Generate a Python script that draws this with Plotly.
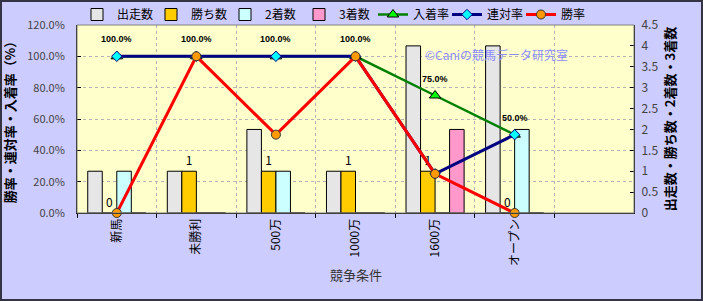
import plotly.graph_objects as go

categories = ["新馬", "未勝利", "500万", "1000万", "1600万", "オープン"]
starts = [1, 1, 2, 1, 4, 4]        # 出走数
wins = [0, 1, 1, 1, 1, 0]          # 勝ち数
seconds = [1, 0, 1, 0, 0, 2]       # 2着数
thirds = [0, 0, 0, 0, 2, 0]        # 3着数
place_rate = [100.0, 100.0, 100.0, 100.0, 75.0, 50.0]   # 入着率
rentai_rate = [100.0, 100.0, 100.0, 100.0, 25.0, 50.0]  # 連対率
win_rate = [0.0, 100.0, 50.0, 100.0, 25.0, 0.0]         # 勝率

left_ticks = [0, 20, 40, 60, 80, 100, 120]
right_ticks = [0, 0.5, 1, 1.5, 2, 2.5, 3, 3.5, 4, 4.5]

FONT = "Noto Sans CJK JP"
W, H = 703, 301
ML, MR, MT, MB = 77, 69, 25, 88
PW, PH = W - ML - MR, H - MT - MB

fig = go.Figure()

bar_line = dict(color="#000000", width=1)
fig.add_bar(name="出走数", x=categories, y=starts, marker=dict(color="#E6E6E6", line=bar_line), yaxis="y")
fig.add_bar(name="勝ち数", x=categories, y=wins, marker=dict(color="#FFCC00", line=bar_line), yaxis="y",
            text=[str(v) for v in wins], textposition="outside", cliponaxis=False,
            textfont=dict(size=12, color="#000000", family=FONT))
fig.add_bar(name="2着数", x=categories, y=seconds, marker=dict(color="#CCFFFF", line=bar_line), yaxis="y")
fig.add_bar(name="3着数", x=categories, y=thirds, marker=dict(color="#FF99CC", line=bar_line), yaxis="y")

fig.add_scatter(name="入着率", x=categories, y=place_rate, yaxis="y2", mode="lines+markers",
                line=dict(color="#008000", width=2.5),
                marker=dict(symbol="triangle-up", size=10, color="#00FF00", line=dict(color="#000000", width=1)),
                cliponaxis=False)
fig.add_scatter(name="連対率", x=categories, y=rentai_rate, yaxis="y2", mode="lines+markers",
                line=dict(color="#000080", width=3),
                marker=dict(symbol="diamond", size=8, color="#00FFFF", line=dict(color="#000080", width=1)),
                cliponaxis=False)
fig.add_scatter(name="勝率", x=categories, y=win_rate, yaxis="y2", mode="lines+markers",
                line=dict(color="#FF0000", width=3),
                marker=dict(symbol="circle", size=9, color="#FF9900", line=dict(color="#333333", width=1)),
                cliponaxis=False)

annotations = []
for c, v in zip(categories, place_rate):
    annotations.append(dict(x=c, y=v, xref="x", yref="y2", text=f"<b>{v:.1f}%</b>", showarrow=False,
                            yshift=17, font=dict(size=9, color="#000000", family="Liberation Sans")))
annotations.append(dict(x=(496 - ML) / PW, xanchor="center", y=1.0 - (44 - MT) / PH, xref="paper", yref="paper",
                        text="©Caniの競馬データ研究室",
                        showarrow=False, font=dict(size=12, color="#8C8CFF", family=FONT)))
annotations.append(dict(x=0.5, y=-(286 - MT - PH) / PH, xref="paper", yref="paper", text="競争条件",
                        showarrow=False, font=dict(size=13, color="#333333", family=FONT)))

shapes = [
    dict(type="rect", xref="paper", yref="paper", x0=0, x1=1, y0=0, y1=1,
         line=dict(color="#808080", width=1), layer="above"),
    dict(type="rect", xref="paper", yref="paper",
         x0=-(ML - 1) / PW, x1=1 + (MR - 1) / PW, y0=-(MB - 1) / PH, y1=1 + (MT - 1) / PH,
         line=dict(color="#333344", width=2), layer="above"),
]

fig.update_layout(
    width=W, height=H,
    margin=dict(l=ML, r=MR, t=MT, b=MB, autoexpand=False),
    paper_bgcolor="#CCCCFF", plot_bgcolor="#FFFFCC",
    font=dict(family=FONT, size=12, color="#000000"),
    barmode="group", bargap=0.27, bargroupgap=0,
    showlegend=True,
    legend=dict(orientation="h", x=0.0, xanchor="left", y=1.0 - 4 / PH, yanchor="bottom",
                bgcolor="rgba(0,0,0,0)", font=dict(size=12, color="#000000", family=FONT),
                itemwidth=30, entrywidth=29, tracegroupgap=0, traceorder="normal"),
    xaxis=dict(type="category", range=[-0.5, 6.5], tickson="boundaries", showgrid=True,
               gridcolor="#B4B4B4", griddash="dot", gridwidth=1,
               tickangle=-90, ticks="outside", ticklen=4, tickcolor="#000000",
               showline=True, linecolor="#000000", linewidth=1,
               tickfont=dict(size=12, color="#000000", family=FONT), fixedrange=True),
    yaxis=dict(side="right", range=[0, 4.5], tickvals=right_ticks,
               ticktext=[f"{t:g}" for t in right_ticks], showgrid=False, zeroline=False,
               ticks="inside", ticklen=4, tickcolor="#000000", ticklabelstandoff=4,
               showline=True, linecolor="#000000", linewidth=1,
               tickfont=dict(size=12, color="#444444", family=FONT),
               title=dict(text="<b>出走数・勝ち数・2着数・3着数</b>", standoff=8,
                          font=dict(size=13, color="#000000", family=FONT))),
    yaxis2=dict(overlaying="y", side="left", range=[0, 120], tickvals=left_ticks,
                ticktext=[f"{t:.1f}%" for t in left_ticks],
                showgrid=True, gridcolor="#B4B4B4", griddash="dot", gridwidth=1, zeroline=False,
                ticks="inside", ticklen=4, tickcolor="#000000", ticklabelstandoff=9,
                showline=True, linecolor="#000000", linewidth=1,
                tickfont=dict(size=11, color="#444444", family=FONT),
                title=dict(text="<b>勝率・連対率・入着率（%）</b>", standoff=8,
                           font=dict(size=13, color="#000000", family=FONT))),
    annotations=annotations, shapes=shapes,
)

fig.write_html("out.html")
